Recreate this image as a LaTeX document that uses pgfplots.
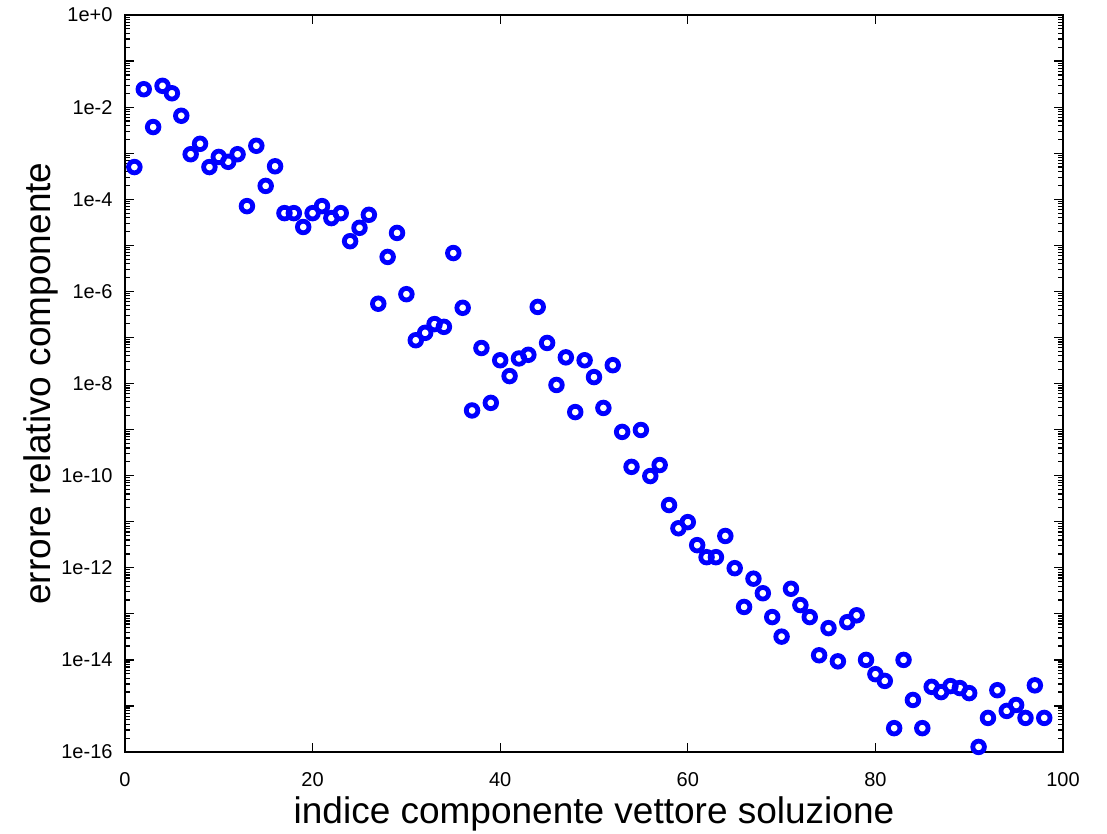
\documentclass[border=0pt]{standalone}
\usepackage{pgfplots}
\pgfplotsset{compat=1.18}
\usepackage{fontspec}
\setmainfont{Liberation Sans}
\def\myminor{1e-16}
\foreach \e in {0,...,15}{\foreach \m in {2,...,9}{\xdef\myminor{\myminor,\m e-\the\numexpr\e+1\relax}}}
\begin{document}
\begin{tikzpicture}
\begin{axis}[
  name=ax,
  scale only axis,
  width=469pt, height=368.5pt,
  ymode=log,
  xmin=0, xmax=100,
  ymin=1e-16, ymax=1,
  xtick={0,20,40,60,80,100},
  ytick={1e0,1e-1,1e-2,1e-3,1e-4,1e-5,1e-6,1e-7,1e-8,1e-9,1e-10,1e-11,1e-12,1e-13,1e-14,1e-15,1e-16},
  yticklabels={1e+0,,1e-2,,1e-4,,1e-6,,1e-8,,1e-10,,1e-12,,1e-14,,1e-16},
  minor ytick/.expanded={\myminor},
  /pgf/number format/assume math mode=true,
  tick label style={font=\fontsize{10}{12}\selectfont},
  xticklabel style={yshift=-6.5pt},
  yticklabel style={xshift=-2.7pt},
  tick align=inside,
  major tick length=4.5pt,
  minor tick length=2.5pt,
  axis line style={line width=1pt},
  every tick/.style={black, line width=0.6pt},
  xlabel={indice componente vettore soluzione},
  ylabel={errore relativo componente},
  label style={font=\fontsize{18.5}{22}\selectfont},
  xlabel style={at={(rel axis cs:0.5,0)}, anchor=base, yshift=-35.5pt, inner sep=0pt},
  ylabel style={at={(axis description cs:-0.10874,0.5)}, anchor=north, inner sep=0pt},
  clip=false,
]
\addplot[only marks, mark=o, mark size=2.9pt, color={rgb,255:red,0;green,0;blue,255}, mark options={line width=2.4pt}] coordinates {
(1,5.0e-4) (2,2.45e-2) (3,3.7e-3) (4,2.9e-2) (5,2.0e-2) (6,6.5e-3) (7,9.5e-4) (8,1.6e-3) (9,5.0e-4) (10,8.3e-4)
(11,6.5e-4) (12,9.5e-4) (13,7.1e-5) (14,1.45e-3) (15,1.95e-4) (16,5.2e-4) (17,5.0e-5) (18,5.0e-5) (19,2.5e-5) (20,5.0e-5)
(21,7.1e-5) (22,3.9e-5) (23,5.0e-5) (24,1.23e-5) (25,2.4e-5) (26,4.6e-5) (27,5.4e-7) (28,5.6e-6) (29,1.86e-5) (30,8.7e-7)
(31,8.7e-8) (32,1.26e-7) (33,1.95e-7) (34,1.7e-7) (35,6.8e-6) (36,4.4e-7) (37,2.6e-9) (38,5.9e-8) (39,3.8e-9) (40,3.2e-8)
(41,1.45e-8) (42,3.5e-8) (43,4.2e-8) (44,4.6e-7) (45,7.6e-8) (46,9.3e-9) (47,3.7e-8) (48,2.4e-9) (49,3.2e-8) (50,1.38e-8)
(51,2.95e-9) (52,2.5e-8) (53,8.9e-10) (54,1.55e-10) (55,9.8e-10) (56,9.8e-11) (57,1.7e-10) (58,2.3e-11) (59,7.2e-12) (60,9.8e-12)
(61,3.1e-12) (62,1.7e-12) (63,1.7e-12) (64,4.9e-12) (65,9.8e-13) (66,1.41e-13) (67,5.8e-13) (68,2.8e-13) (69,8.5e-14) (70,3.2e-14)
(71,3.5e-13) (72,1.55e-13) (73,8.5e-14) (74,1.26e-14) (75,4.9e-14) (76,9.3e-15) (77,6.6e-14) (78,9.3e-14) (79,1.0e-14) (80,4.9e-15)
(81,3.5e-15) (82,3.3e-16) (83,1.0e-14) (84,1.35e-15) (85,3.3e-16) (86,2.6e-15) (87,2.0e-15) (88,2.7e-15) (89,2.45e-15) (90,1.9e-15)
(91,1.29e-16) (92,5.5e-16) (93,2.2e-15) (94,7.8e-16) (95,1.05e-15) (96,5.5e-16) (97,2.8e-15) (98,5.5e-16)
};
\end{axis}
\pgfresetboundingbox
\path[use as bounding box] ([xshift=-62.5pt,yshift=-40.5pt]ax.south west) rectangle ([xshift=22pt,yshift=7.5pt]ax.north east);
\end{tikzpicture}
\end{document}
